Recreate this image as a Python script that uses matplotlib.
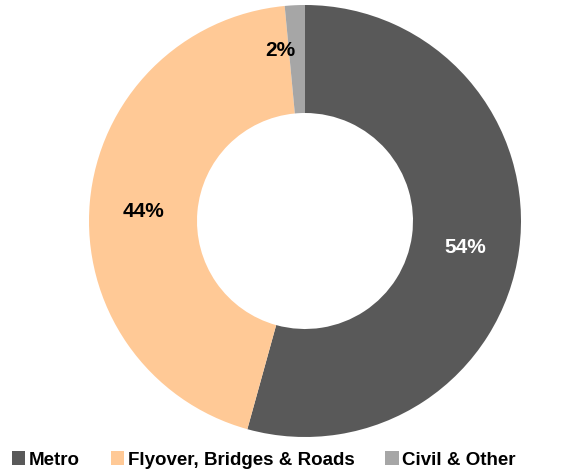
import matplotlib.pyplot as plt
from matplotlib.patches import Patch

# Segment data (rounded labels read 54%, 44%, 2%)
labels = ['Metro', 'Flyover, Bridges & Roads', 'Civil & Other']
shares = [54.3, 44.2, 1.5]
colors = ['#595959', '#FFC996', '#A6A6A6']
pct_colors = ['white', 'black', 'black']

plt.rcParams['font.family'] = ['Liberation Sans', 'DejaVu Sans']

fig = plt.figure(figsize=(5.82, 4.74), dpi=100)
# axes placed so the ring is centred at (305, 221) px with radius 216 px
ax = fig.add_axes([(305 - 216) / 582, (474 - 437) / 474, 432 / 582, 432 / 474])

wedges, texts, autotexts = ax.pie(shares, colors=colors, startangle=90, counterclock=False,
                                  radius=1, autopct='%.0f%%', pctdistance=0.75,
                                  wedgeprops=dict(width=0.5, linewidth=0))
for t, c in zip(autotexts, pct_colors):
    t.set_color(c)
    t.set_fontsize(15)
    t.set_fontweight('bold')
    x, y = t.get_position()
    t.set_position((x, y - 0.02))
# small slice label sits a bit further out and left
x, y = autotexts[2].get_position()
autotexts[2].set_position((x - 0.08, y + 0.06))

ax.set_xlim(-1, 1)
ax.set_ylim(-1, 1)
ax.set_aspect('equal')
ax.axis('off')

handles = [Patch(facecolor=c, edgecolor='none') for c in colors]
fig.legend(handles, labels, loc='center left', bbox_to_anchor=(12 / 582, 1 - 460 / 474), ncol=3,
           frameon=False, borderpad=0, borderaxespad=0,
           handlelength=0.7, handleheight=0.7, handletextpad=0.2,
           columnspacing=1.65, prop=dict(size=13.5, weight='bold'))

fig.savefig('out.png', dpi=100)
